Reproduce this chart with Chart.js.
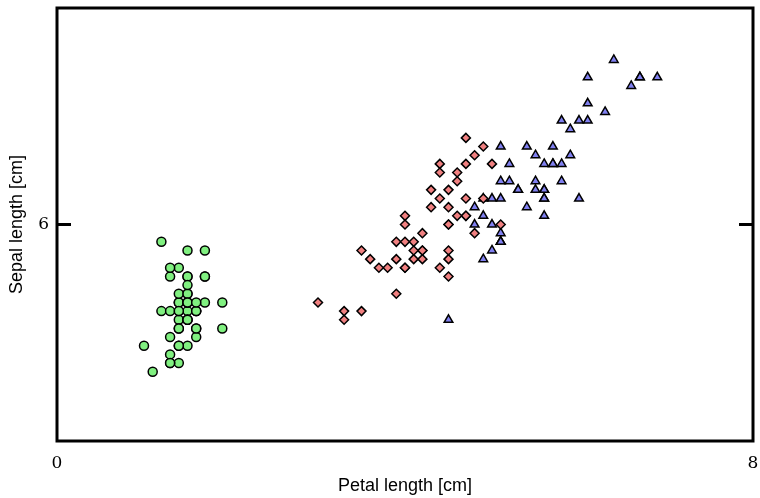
<!DOCTYPE html>
<html>
<head>
<meta charset="utf-8">
<script src="https://cdn.jsdelivr.net/npm/chart.js@4/dist/chart.umd.min.js"></script>
<style>
  html, body { margin: 0; padding: 0; background: #ffffff; }
  #wrap { width: 760px; height: 498px; }
</style>
</head>
<body>
<div id="wrap"><canvas id="c" width="760" height="498"></canvas></div>
<script>
// Iris data: petal length (x) vs sepal length (y)
const setosaPetal = [1.4,1.4,1.3,1.5,1.4,1.7,1.4,1.5,1.4,1.5,1.5,1.6,1.4,1.1,1.2,1.5,1.3,1.4,1.7,1.5,1.7,1.5,1.0,1.7,1.9,1.6,1.6,1.5,1.4,1.6,1.6,1.5,1.5,1.4,1.5,1.2,1.3,1.5,1.3,1.5,1.3,1.3,1.3,1.6,1.9,1.4,1.6,1.4,1.5,1.4];
const setosaSepal = [5.1,4.9,4.7,4.6,5.0,5.4,4.6,5.0,4.4,4.9,5.4,4.8,4.8,4.3,5.8,5.7,5.4,5.1,5.7,5.1,5.4,5.1,4.6,5.1,4.8,5.0,5.0,5.2,5.2,4.7,4.8,5.4,5.2,5.5,4.9,5.0,5.5,4.9,4.4,5.1,5.0,4.5,4.4,5.0,5.1,4.8,5.1,4.6,5.3,5.0];
const versicolorPetal = [4.7,4.5,4.9,4.0,4.6,4.5,4.7,3.3,4.6,3.9,3.5,4.2,4.0,4.7,3.6,4.4,4.5,4.1,4.5,3.9,4.8,4.0,4.9,4.7,4.3,4.4,4.8,5.0,4.5,3.5,3.8,3.7,3.9,5.1,4.5,4.5,4.7,4.4,4.1,4.0,4.4,4.6,4.0,3.3,4.2,4.2,4.2,4.3,3.0,4.1];
const versicolorSepal = [7.0,6.4,6.9,5.5,6.5,5.7,6.3,4.9,6.6,5.2,5.0,5.9,6.0,6.1,5.6,6.7,5.6,5.8,6.2,5.6,5.9,6.1,6.3,6.1,6.4,6.6,6.8,6.7,6.0,5.7,5.5,5.5,5.8,6.0,5.4,6.0,6.7,6.3,5.6,5.5,5.5,6.1,5.8,5.0,5.6,5.7,5.7,6.2,5.1,5.7];
const virginicaPetal = [6.0,5.1,5.9,5.6,5.8,6.6,4.5,6.3,5.8,6.1,5.1,5.3,5.5,5.0,5.1,5.3,5.5,6.7,6.9,5.0,5.7,4.9,6.7,4.9,5.7,6.0,4.8,4.9,5.6,5.8,6.1,6.4,5.6,5.1,5.6,6.1,5.6,5.5,4.8,5.4,5.6,5.1,5.1,5.9,5.7,5.2,5.0,5.2,5.4,5.1];
const virginicaSepal = [6.3,5.8,7.1,6.3,6.5,7.6,4.9,7.3,6.7,7.2,6.5,6.4,6.8,5.7,5.8,6.4,6.5,7.7,7.7,6.0,6.9,5.6,7.7,6.3,6.7,7.2,6.2,6.1,6.4,7.2,7.4,7.9,6.4,6.3,6.1,7.7,6.3,6.4,6.0,6.9,6.7,6.9,5.8,6.8,6.7,6.7,6.3,6.5,6.2,5.9];

const xTickValues = [0, 8];
const yTickValues = [6];
const xTitle = 'Petal length [cm]';
const yTitle = 'Sepal length [cm]';

function pts(xs, ys) { return xs.map((x, i) => ({ x: x, y: ys[i] })); }

const framePlugin = {
  id: 'frame',
  afterDatasetsDraw(chart) {
    const { ctx, chartArea: a, scales } = chart;
    ctx.save();
    ctx.strokeStyle = '#000';
    ctx.lineWidth = 3;
    ctx.strokeRect(a.left, a.top, a.right - a.left, a.bottom - a.top);
    yTickValues.forEach(v => {
      const py = scales.y.getPixelForValue(v);
      ctx.beginPath();
      ctx.moveTo(a.left, py); ctx.lineTo(a.left + 14, py);
      ctx.moveTo(a.right, py); ctx.lineTo(a.right - 14, py);
      ctx.stroke();
    });
    ctx.restore();
  }
};

new Chart(document.getElementById('c'), {
  type: 'scatter',
  data: {
    datasets: [
      { label: 'setosa', data: pts(setosaPetal, setosaSepal), pointStyle: 'circle', pointRadius: 4.5,
        backgroundColor: 'rgb(128,240,128)', borderColor: '#000', borderWidth: 1.5 },
      { label: 'versicolor', data: pts(versicolorPetal, versicolorSepal), pointStyle: 'rectRot', pointRadius: 4.5,
        backgroundColor: 'rgb(240,128,128)', borderColor: '#000', borderWidth: 1.5 },
      { label: 'virginica', data: pts(virginicaPetal, virginicaSepal), pointStyle: 'triangle', pointRadius: 5,
        backgroundColor: 'rgb(128,128,240)', borderColor: '#000', borderWidth: 1.5 }
    ]
  },
  options: {
    responsive: false,
    animation: false,
    layout: { padding: { top: 8, right: 7, left: 0, bottom: 0 } },
    plugins: { legend: { display: false }, tooltip: { enabled: false } },
    scales: {
      x: {
        type: 'linear', min: 0, max: 8,
        afterBuildTicks: s => { s.ticks = xTickValues.map(v => ({ value: v })); },
        afterFit: s => { s.height = 57; s.paddingLeft = 0; s.paddingRight = 0; },
        grid: { display: false, drawTicks: false },
        border: { display: false },
        ticks: { color: '#000', padding: 12, maxRotation: 0, autoSkip: false,
                 font: { family: 'DejaVu Serif', size: 17 } },
        title: { display: true, text: xTitle, color: '#000', padding: { top: 0, bottom: 1 },
                 font: { family: 'Liberation Sans', size: 18 } }
      },
      y: {
        type: 'linear', min: 3.5, max: 8.5,
        afterBuildTicks: s => { s.ticks = yTickValues.map(v => ({ value: v })); },
        afterFit: s => { s.width = 57; s.paddingTop = 0; s.paddingBottom = 0; },
        grid: { display: false, drawTicks: false },
        border: { display: false },
        ticks: { color: '#000', padding: 8, autoSkip: false,
                 font: { family: 'DejaVu Serif', size: 17 } },
        title: { display: true, text: yTitle, color: '#000', padding: { top: 6, bottom: 0 },
                 font: { family: 'Liberation Sans', size: 18 } }
      }
    }
  },
  plugins: [framePlugin]
});
</script>
</body>
</html>
